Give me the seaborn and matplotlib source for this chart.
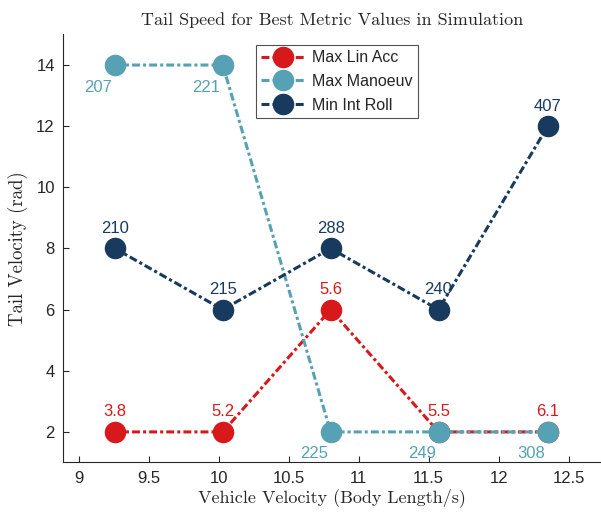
import matplotlib
matplotlib.use("Agg")
import matplotlib.pyplot as plt
import seaborn as sns
import pandas as pd

vehicle_velocity = [9.26, 10.03, 10.80, 11.57, 12.35]

series_names = ["Max Lin Acc", "Max Manoeuv", "Min Int Roll"]
lin_acc_tail = [2, 2, 6, 2, 2]
manoeuv_tail = [14, 14, 2, 2, 2]
int_roll_tail = [8, 6, 8, 6, 12]

lin_acc_labels = ["3.8", "5.2", "5.6", "5.5", "6.1"]
manoeuv_labels = ["207", "221", "225", "249", "308"]
int_roll_labels = ["210", "215", "288", "240", "407"]

colors = ["#d7191c", "#56a2b4", "#183a5e"]

sns.set_theme(style="ticks")
plt.rcParams["font.family"] = ["Liberation Sans", "DejaVu Sans"]

fig = plt.figure(figsize=(6.01, 5.12), dpi=100)
ax = fig.add_axes([0.105, 0.0967, 0.895, 0.836])

rows = []
for name, ys in zip(series_names, [lin_acc_tail, manoeuv_tail, int_roll_tail]):
    for x, y in zip(vehicle_velocity, ys):
        rows.append({"series": name, "vel": x, "tail": y})
df = pd.DataFrame(rows)

for name, col in zip(series_names, colors):
    sub = df[df["series"] == name]
    sns.lineplot(data=sub, x="vel", y="tail", color=col, marker="o",
                 markersize=15.5, markeredgewidth=0, linewidth=2.2,
                 label=name, ax=ax, sort=False)
for line in ax.get_lines():
    line.set_dashes([2.6, 1.0, 1.0, 1.0])

# value annotations
for x, y, t in zip(vehicle_velocity, lin_acc_tail, lin_acc_labels):
    ax.annotate(t, (x, y), xytext=(0, 9), textcoords="offset points",
                ha="center", va="bottom", color=colors[0], fontsize=12)
for x, y, t in zip(vehicle_velocity, manoeuv_tail, manoeuv_labels):
    ax.annotate(t, (x, y), xytext=(-2, -10.5), textcoords="offset points",
                ha="right", va="top", color=colors[1], fontsize=12)
for x, y, t in zip(vehicle_velocity, int_roll_tail, int_roll_labels):
    ax.annotate(t, (x, y), xytext=(0, 9), textcoords="offset points",
                ha="center", va="bottom", color=colors[2], fontsize=12)

ax.set_xlim(8.89, 12.73)
ax.set_ylim(1, 15)
ax.set_xticks([9, 9.5, 10, 10.5, 11, 11.5, 12, 12.5])
ax.set_xticklabels(["9", "9.5", "10", "10.5", "11", "11.5", "12", "12.5"])
ax.set_yticks([2, 4, 6, 8, 10, 12, 14])
ax.tick_params(direction="in", length=4, width=0.8, colors="#262626",
               labelsize=12, pad=6)
sns.despine(ax=ax)
for s in ["left", "bottom"]:
    ax.spines[s].set_color("#262626")
    ax.spines[s].set_linewidth(0.8)

ax.set_title("Tail Speed for Best Metric Values in Simulation",
             family="cmr10", fontsize=13, color="#262626", pad=7)
ax.set_xlabel("Vehicle Velocity (Body Length/s)", family="cmr10",
              fontsize=13, color="#262626", labelpad=2)
ax.set_ylabel("Tail Velocity (rad)", family="cmr10", fontsize=13.5,
              color="#262626", labelpad=6)

leg = ax.legend(loc="upper left", bbox_to_anchor=(0.352, 0.984),
                fontsize=11.5, frameon=True, fancybox=False,
                handlelength=2.7, borderpad=0.35, labelspacing=0.55,
                handletextpad=0.45, borderaxespad=0.2)
leg.get_frame().set_edgecolor("#262626")
leg.get_frame().set_linewidth(0.8)

fig.savefig("out.png", dpi=100)
